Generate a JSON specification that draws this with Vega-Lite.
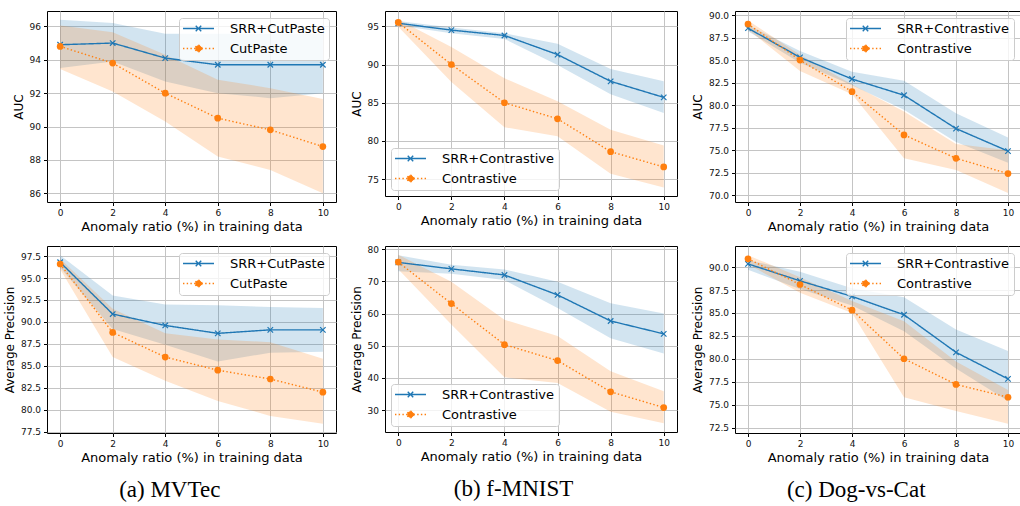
{
  "$schema": "https://vega.github.io/schema/vega-lite/v6.json",
  "padding": {"left": 2, "top": 10, "right": 0, "bottom": 0},
  "background": "white",
  "concat": [
    {
      "width": 289, "height": 191,
      "data": {"values": [
        {"r": 0, "s": "SRR+CutPaste", "v": 94.9, "lo": 93.5, "hi": 96.4},
        {"r": 2, "s": "SRR+CutPaste", "v": 95.0, "lo": 93.9, "hi": 96.2},
        {"r": 4, "s": "SRR+CutPaste", "v": 94.1, "lo": 92.7, "hi": 95.55},
        {"r": 6, "s": "SRR+CutPaste", "v": 93.7, "lo": 92.0, "hi": 95.55},
        {"r": 8, "s": "SRR+CutPaste", "v": 93.7, "lo": 91.7, "hi": 95.55},
        {"r": 10, "s": "SRR+CutPaste", "v": 93.7, "lo": 92.0, "hi": 95.55},
        {"r": 0, "s": "CutPaste", "v": 94.8, "lo": 93.45, "hi": 96.05},
        {"r": 2, "s": "CutPaste", "v": 93.8, "lo": 92.1, "hi": 95.65},
        {"r": 4, "s": "CutPaste", "v": 92.0, "lo": 90.3, "hi": 94.3},
        {"r": 6, "s": "CutPaste", "v": 90.5, "lo": 88.2, "hi": 92.8},
        {"r": 8, "s": "CutPaste", "v": 89.8, "lo": 87.4, "hi": 92.3},
        {"r": 10, "s": "CutPaste", "v": 88.8, "lo": 86.0, "hi": 91.65}
      ]},
      "encoding": {
        "x": {"field": "r", "type": "quantitative", "scale": {"domain": [-0.5, 10.5], "nice": false, "zero": false}, "axis": {"values": [0, 2, 4, 6, 8, 10], "title": "Anomaly ratio (%) in training data"}},
        "color": {"field": "s", "type": "nominal", "scale": {"domain": ["SRR+CutPaste", "CutPaste"], "range": ["#1f77b4", "#ff7f0e"]},
          "legend": {"title": null, "orient": "top-right", "offset": 7,
            "encode": {"symbols": {"update": {
              "shape": {"signal": "indexof(datum.value,'SRR')===0 ? 'M-3.1,0H3.1M-0.55,-0.55L0.55,0.55M-0.55,0.55L0.55,-0.55' : 'M-3.1,0H3.1M0.65,0A0.65,0.65,0,1,1,-0.65,0A0.65,0.65,0,1,1,0.65,0'"},
              "fill": {"signal": "indexof(datum.value,'SRR')===0 ? 'transparent' : '#ff7f0e'"},
              "stroke": {"signal": "indexof(datum.value,'SRR')===0 ? '#1f77b4' : '#ff7f0e'"},
              "strokeDash": {"signal": "indexof(datum.value,'SRR')===0 ? [1,0] : [1.4,2.3]"},
              "opacity": {"value": 1}, "fillOpacity": {"value": 1}, "strokeOpacity": {"value": 1}}}}}}
      },
      "layer": [
        {"mark": {"type": "area", "opacity": 0.2},
         "encoding": {
           "y": {"field": "lo", "type": "quantitative", "scale": {"domain": [85.48, 96.92], "nice": false, "zero": false}, "axis": {"values": [86, 88, 90, 92, 94, 96], "format": "d", "title": "AUC"}},
           "y2": {"field": "hi"}}},
        {"mark": {"type": "line", "strokeWidth": 1.4},
         "encoding": {
           "y": {"field": "v", "type": "quantitative", "scale": {"domain": [85.48, 96.92], "nice": false, "zero": false}, "axis": {"values": [86, 88, 90, 92, 94, 96], "format": "d", "title": "AUC"}},
           "strokeDash": {"field": "s", "type": "nominal", "scale": {"domain": ["SRR+CutPaste", "CutPaste"], "range": [[1, 0], [1.4, 2.3]]}, "legend": null}}},
        {"transform": [{"filter": "indexof(datum.s,'SRR')===0"}],
         "mark": {"type": "point", "shape": "M-1,-1L1,1M-1,1L1,-1", "filled": false, "size": 30, "strokeWidth": 1.2, "opacity": 1},
         "encoding": {"y": {"field": "v", "type": "quantitative", "scale": {"domain": [85.48, 96.92], "nice": false, "zero": false}, "axis": {"values": [86, 88, 90, 92, 94, 96], "format": "d", "title": "AUC"}}}},
        {"transform": [{"filter": "indexof(datum.s,'SRR')!==0"}],
         "mark": {"type": "circle", "size": 45, "opacity": 1},
         "encoding": {"y": {"field": "v", "type": "quantitative", "scale": {"domain": [85.48, 96.92], "nice": false, "zero": false}, "axis": {"values": [86, 88, 90, 92, 94, 96], "format": "d", "title": "AUC"}}}}
      ]
    },
    {
      "width": 292, "height": 185,
      "data": {"values": [
        {"r": 0, "s": "SRR+Contrastive", "v": 95.4, "lo": 95.1, "hi": 95.7},
        {"r": 2, "s": "SRR+Contrastive", "v": 94.5, "lo": 94.1, "hi": 94.85},
        {"r": 4, "s": "SRR+Contrastive", "v": 93.8, "lo": 93.35, "hi": 94.1},
        {"r": 6, "s": "SRR+Contrastive", "v": 91.3, "lo": 89.95, "hi": 92.7},
        {"r": 8, "s": "SRR+Contrastive", "v": 87.8, "lo": 86.1, "hi": 89.4},
        {"r": 10, "s": "SRR+Contrastive", "v": 85.7, "lo": 83.65, "hi": 87.8},
        {"r": 0, "s": "Contrastive", "v": 95.5, "lo": 94.95, "hi": 95.9},
        {"r": 2, "s": "Contrastive", "v": 90.0, "lo": 87.7, "hi": 92.3},
        {"r": 4, "s": "Contrastive", "v": 85.0, "lo": 81.8, "hi": 88.2},
        {"r": 6, "s": "Contrastive", "v": 82.9, "lo": 80.6, "hi": 85.2},
        {"r": 8, "s": "Contrastive", "v": 78.6, "lo": 75.7, "hi": 81.45},
        {"r": 10, "s": "Contrastive", "v": 76.6, "lo": 73.9, "hi": 79.4}
      ]},
      "encoding": {
        "x": {"field": "r", "type": "quantitative", "scale": {"domain": [-0.5, 10.5], "nice": false, "zero": false}, "axis": {"values": [0, 2, 4, 6, 8, 10], "title": "Anomaly ratio (%) in training data"}},
        "color": {"field": "s", "type": "nominal", "scale": {"domain": ["SRR+Contrastive", "Contrastive"], "range": ["#1f77b4", "#ff7f0e"]},
          "legend": {"title": null, "orient": "bottom-left", "offset": 6,
            "encode": {"symbols": {"update": {
              "shape": {"signal": "indexof(datum.value,'SRR')===0 ? 'M-3.1,0H3.1M-0.55,-0.55L0.55,0.55M-0.55,0.55L0.55,-0.55' : 'M-3.1,0H3.1M0.65,0A0.65,0.65,0,1,1,-0.65,0A0.65,0.65,0,1,1,0.65,0'"},
              "fill": {"signal": "indexof(datum.value,'SRR')===0 ? 'transparent' : '#ff7f0e'"},
              "stroke": {"signal": "indexof(datum.value,'SRR')===0 ? '#1f77b4' : '#ff7f0e'"},
              "strokeDash": {"signal": "indexof(datum.value,'SRR')===0 ? [1,0] : [1.4,2.3]"},
              "opacity": {"value": 1}, "fillOpacity": {"value": 1}, "strokeOpacity": {"value": 1}}}}}}
      },
      "layer": [
        {"mark": {"type": "area", "opacity": 0.2},
         "encoding": {
           "y": {"field": "lo", "type": "quantitative", "scale": {"domain": [72.8, 97.0], "nice": false, "zero": false}, "axis": {"values": [75, 80, 85, 90, 95], "format": "d", "title": "AUC"}},
           "y2": {"field": "hi"}}},
        {"mark": {"type": "line", "strokeWidth": 1.4},
         "encoding": {
           "y": {"field": "v", "type": "quantitative", "scale": {"domain": [72.8, 97.0], "nice": false, "zero": false}, "axis": {"values": [75, 80, 85, 90, 95], "format": "d", "title": "AUC"}},
           "strokeDash": {"field": "s", "type": "nominal", "scale": {"domain": ["SRR+Contrastive", "Contrastive"], "range": [[1, 0], [1.4, 2.3]]}, "legend": null}}},
        {"transform": [{"filter": "indexof(datum.s,'SRR')===0"}],
         "mark": {"type": "point", "shape": "M-1,-1L1,1M-1,1L1,-1", "filled": false, "size": 30, "strokeWidth": 1.2, "opacity": 1},
         "encoding": {"y": {"field": "v", "type": "quantitative", "scale": {"domain": [72.8, 97.0], "nice": false, "zero": false}, "axis": {"values": [75, 80, 85, 90, 95], "format": "d", "title": "AUC"}}}},
        {"transform": [{"filter": "indexof(datum.s,'SRR')!==0"}],
         "mark": {"type": "circle", "size": 45, "opacity": 1},
         "encoding": {"y": {"field": "v", "type": "quantitative", "scale": {"domain": [72.8, 97.0], "nice": false, "zero": false}, "axis": {"values": [75, 80, 85, 90, 95], "format": "d", "title": "AUC"}}}}
      ]
    },
    {
      "width": 286, "height": 191,
      "data": {"values": [
        {"r": 0, "s": "SRR+Contrastive", "v": 88.55, "lo": 88.2, "hi": 88.9},
        {"r": 2, "s": "SRR+Contrastive", "v": 85.3, "lo": 84.7, "hi": 86.0},
        {"r": 4, "s": "SRR+Contrastive", "v": 82.9, "lo": 82.2, "hi": 83.7},
        {"r": 6, "s": "SRR+Contrastive", "v": 81.1, "lo": 79.5, "hi": 82.7},
        {"r": 8, "s": "SRR+Contrastive", "v": 77.4, "lo": 75.9, "hi": 79.1},
        {"r": 10, "s": "SRR+Contrastive", "v": 74.9, "lo": 73.6, "hi": 76.4},
        {"r": 0, "s": "Contrastive", "v": 89.0, "lo": 88.4, "hi": 89.4},
        {"r": 2, "s": "Contrastive", "v": 85.0, "lo": 83.8, "hi": 85.6},
        {"r": 4, "s": "Contrastive", "v": 81.5, "lo": 81.2, "hi": 82.3},
        {"r": 6, "s": "Contrastive", "v": 76.7, "lo": 74.1, "hi": 79.3},
        {"r": 8, "s": "Contrastive", "v": 74.1, "lo": 72.8, "hi": 75.7},
        {"r": 10, "s": "Contrastive", "v": 72.4, "lo": 70.25, "hi": 75.0}
      ]},
      "encoding": {
        "x": {"field": "r", "type": "quantitative", "scale": {"domain": [-0.5, 10.5], "nice": false, "zero": false}, "axis": {"values": [0, 2, 4, 6, 8, 10], "title": "Anomaly ratio (%) in training data"}},
        "color": {"field": "s", "type": "nominal", "scale": {"domain": ["SRR+Contrastive", "Contrastive"], "range": ["#1f77b4", "#ff7f0e"]},
          "legend": {"title": null, "orient": "top-right", "offset": 7,
            "encode": {"symbols": {"update": {
              "shape": {"signal": "indexof(datum.value,'SRR')===0 ? 'M-3.1,0H3.1M-0.55,-0.55L0.55,0.55M-0.55,0.55L0.55,-0.55' : 'M-3.1,0H3.1M0.65,0A0.65,0.65,0,1,1,-0.65,0A0.65,0.65,0,1,1,0.65,0'"},
              "fill": {"signal": "indexof(datum.value,'SRR')===0 ? 'transparent' : '#ff7f0e'"},
              "stroke": {"signal": "indexof(datum.value,'SRR')===0 ? '#1f77b4' : '#ff7f0e'"},
              "strokeDash": {"signal": "indexof(datum.value,'SRR')===0 ? [1,0] : [1.4,2.3]"},
              "opacity": {"value": 1}, "fillOpacity": {"value": 1}, "strokeOpacity": {"value": 1}}}}}}
      },
      "layer": [
        {"mark": {"type": "area", "opacity": 0.2},
         "encoding": {
           "y": {"field": "lo", "type": "quantitative", "scale": {"domain": [69.25, 90.45], "nice": false, "zero": false}, "axis": {"values": [70, 72.5, 75, 77.5, 80, 82.5, 85, 87.5, 90], "format": ".1f", "title": "AUC"}},
           "y2": {"field": "hi"}}},
        {"mark": {"type": "line", "strokeWidth": 1.4},
         "encoding": {
           "y": {"field": "v", "type": "quantitative", "scale": {"domain": [69.25, 90.45], "nice": false, "zero": false}, "axis": {"values": [70, 72.5, 75, 77.5, 80, 82.5, 85, 87.5, 90], "format": ".1f", "title": "AUC"}},
           "strokeDash": {"field": "s", "type": "nominal", "scale": {"domain": ["SRR+Contrastive", "Contrastive"], "range": [[1, 0], [1.4, 2.3]]}, "legend": null}}},
        {"transform": [{"filter": "indexof(datum.s,'SRR')===0"}],
         "mark": {"type": "point", "shape": "M-1,-1L1,1M-1,1L1,-1", "filled": false, "size": 30, "strokeWidth": 1.2, "opacity": 1},
         "encoding": {"y": {"field": "v", "type": "quantitative", "scale": {"domain": [69.25, 90.45], "nice": false, "zero": false}, "axis": {"values": [70, 72.5, 75, 77.5, 80, 82.5, 85, 87.5, 90], "format": ".1f", "title": "AUC"}}}},
        {"transform": [{"filter": "indexof(datum.s,'SRR')!==0"}],
         "mark": {"type": "circle", "size": 45, "opacity": 1},
         "encoding": {"y": {"field": "v", "type": "quantitative", "scale": {"domain": [69.25, 90.45], "nice": false, "zero": false}, "axis": {"values": [70, 72.5, 75, 77.5, 80, 82.5, 85, 87.5, 90], "format": ".1f", "title": "AUC"}}}}
      ]
    },
    {
      "width": 289, "height": 187,
      "title": {"text": "(a) MVTec", "orient": "bottom", "frame": "bounds", "font": "Liberation Serif", "fontSize": 23, "fontWeight": "normal", "color": "black", "offset": 14},
      "data": {"values": [
        {"r": 0, "s": "SRR+CutPaste", "v": 96.8, "lo": 96.2, "hi": 97.6},
        {"r": 2, "s": "SRR+CutPaste", "v": 90.9, "lo": 89.2, "hi": 93.0},
        {"r": 4, "s": "SRR+CutPaste", "v": 89.6, "lo": 87.4, "hi": 92.0},
        {"r": 6, "s": "SRR+CutPaste", "v": 88.7, "lo": 85.5, "hi": 91.9},
        {"r": 8, "s": "SRR+CutPaste", "v": 89.1, "lo": 86.5, "hi": 91.7},
        {"r": 10, "s": "SRR+CutPaste", "v": 89.1, "lo": 86.6, "hi": 91.6},
        {"r": 0, "s": "CutPaste", "v": 96.6, "lo": 96.0, "hi": 97.2},
        {"r": 2, "s": "CutPaste", "v": 88.8, "lo": 86.0, "hi": 91.5},
        {"r": 4, "s": "CutPaste", "v": 86.0, "lo": 83.3, "hi": 88.7},
        {"r": 6, "s": "CutPaste", "v": 84.5, "lo": 81.0, "hi": 88.0},
        {"r": 8, "s": "CutPaste", "v": 83.5, "lo": 79.3, "hi": 87.7},
        {"r": 10, "s": "CutPaste", "v": 82.0, "lo": 78.4, "hi": 85.8}
      ]},
      "encoding": {
        "x": {"field": "r", "type": "quantitative", "scale": {"domain": [-0.5, 10.5], "nice": false, "zero": false}, "axis": {"values": [0, 2, 4, 6, 8, 10], "title": "Anomaly ratio (%) in training data"}},
        "color": {"field": "s", "type": "nominal", "scale": {"domain": ["SRR+CutPaste", "CutPaste"], "range": ["#1f77b4", "#ff7f0e"]},
          "legend": {"title": null, "orient": "top-right", "offset": 7,
            "encode": {"symbols": {"update": {
              "shape": {"signal": "indexof(datum.value,'SRR')===0 ? 'M-3.1,0H3.1M-0.55,-0.55L0.55,0.55M-0.55,0.55L0.55,-0.55' : 'M-3.1,0H3.1M0.65,0A0.65,0.65,0,1,1,-0.65,0A0.65,0.65,0,1,1,0.65,0'"},
              "fill": {"signal": "indexof(datum.value,'SRR')===0 ? 'transparent' : '#ff7f0e'"},
              "stroke": {"signal": "indexof(datum.value,'SRR')===0 ? '#1f77b4' : '#ff7f0e'"},
              "strokeDash": {"signal": "indexof(datum.value,'SRR')===0 ? [1,0] : [1.4,2.3]"},
              "opacity": {"value": 1}, "fillOpacity": {"value": 1}, "strokeOpacity": {"value": 1}}}}}}
      },
      "layer": [
        {"mark": {"type": "area", "opacity": 0.2},
         "encoding": {
           "y": {"field": "lo", "type": "quantitative", "scale": {"domain": [77.35, 98.65], "nice": false, "zero": false}, "axis": {"values": [77.5, 80, 82.5, 85, 87.5, 90, 92.5, 95, 97.5], "format": ".1f", "title": "Average Precision"}},
           "y2": {"field": "hi"}}},
        {"mark": {"type": "line", "strokeWidth": 1.4},
         "encoding": {
           "y": {"field": "v", "type": "quantitative", "scale": {"domain": [77.35, 98.65], "nice": false, "zero": false}, "axis": {"values": [77.5, 80, 82.5, 85, 87.5, 90, 92.5, 95, 97.5], "format": ".1f", "title": "Average Precision"}},
           "strokeDash": {"field": "s", "type": "nominal", "scale": {"domain": ["SRR+CutPaste", "CutPaste"], "range": [[1, 0], [1.4, 2.3]]}, "legend": null}}},
        {"transform": [{"filter": "indexof(datum.s,'SRR')===0"}],
         "mark": {"type": "point", "shape": "M-1,-1L1,1M-1,1L1,-1", "filled": false, "size": 30, "strokeWidth": 1.2, "opacity": 1},
         "encoding": {"y": {"field": "v", "type": "quantitative", "scale": {"domain": [77.35, 98.65], "nice": false, "zero": false}, "axis": {"values": [77.5, 80, 82.5, 85, 87.5, 90, 92.5, 95, 97.5], "format": ".1f", "title": "Average Precision"}}}},
        {"transform": [{"filter": "indexof(datum.s,'SRR')!==0"}],
         "mark": {"type": "circle", "size": 45, "opacity": 1},
         "encoding": {"y": {"field": "v", "type": "quantitative", "scale": {"domain": [77.35, 98.65], "nice": false, "zero": false}, "axis": {"values": [77.5, 80, 82.5, 85, 87.5, 90, 92.5, 95, 97.5], "format": ".1f", "title": "Average Precision"}}}}
      ]
    },
    {
      "width": 292, "height": 186,
      "title": {"text": "(b) f-MNIST", "orient": "bottom", "frame": "bounds", "font": "Liberation Serif", "fontSize": 23, "fontWeight": "normal", "color": "black", "offset": 14},
      "data": {"values": [
        {"r": 0, "s": "SRR+Contrastive", "v": 75.9, "lo": 73.15, "hi": 78.1},
        {"r": 2, "s": "SRR+Contrastive", "v": 73.9, "lo": 72.4, "hi": 75.2},
        {"r": 4, "s": "SRR+Contrastive", "v": 72.0, "lo": 70.4, "hi": 73.7},
        {"r": 6, "s": "SRR+Contrastive", "v": 65.8, "lo": 61.7, "hi": 69.9},
        {"r": 8, "s": "SRR+Contrastive", "v": 57.7, "lo": 52.3, "hi": 63.2},
        {"r": 10, "s": "SRR+Contrastive", "v": 53.7, "lo": 47.6, "hi": 60.0},
        {"r": 0, "s": "Contrastive", "v": 76.0, "lo": 73.8, "hi": 78.3},
        {"r": 2, "s": "Contrastive", "v": 63.1, "lo": 56.6, "hi": 69.9},
        {"r": 4, "s": "Contrastive", "v": 50.35, "lo": 40.2, "hi": 58.1},
        {"r": 6, "s": "Contrastive", "v": 45.4, "lo": 38.4, "hi": 53.0},
        {"r": 8, "s": "Contrastive", "v": 35.7, "lo": 29.5, "hi": 42.1},
        {"r": 10, "s": "Contrastive", "v": 30.8, "lo": 25.9, "hi": 35.9}
      ]},
      "encoding": {
        "x": {"field": "r", "type": "quantitative", "scale": {"domain": [-0.5, 10.5], "nice": false, "zero": false}, "axis": {"values": [0, 2, 4, 6, 8, 10], "title": "Anomaly ratio (%) in training data"}},
        "color": {"field": "s", "type": "nominal", "scale": {"domain": ["SRR+Contrastive", "Contrastive"], "range": ["#1f77b4", "#ff7f0e"]},
          "legend": {"title": null, "orient": "bottom-left", "offset": 6,
            "encode": {"symbols": {"update": {
              "shape": {"signal": "indexof(datum.value,'SRR')===0 ? 'M-3.1,0H3.1M-0.55,-0.55L0.55,0.55M-0.55,0.55L0.55,-0.55' : 'M-3.1,0H3.1M0.65,0A0.65,0.65,0,1,1,-0.65,0A0.65,0.65,0,1,1,0.65,0'"},
              "fill": {"signal": "indexof(datum.value,'SRR')===0 ? 'transparent' : '#ff7f0e'"},
              "stroke": {"signal": "indexof(datum.value,'SRR')===0 ? '#1f77b4' : '#ff7f0e'"},
              "strokeDash": {"signal": "indexof(datum.value,'SRR')===0 ? [1,0] : [1.4,2.3]"},
              "opacity": {"value": 1}, "fillOpacity": {"value": 1}, "strokeOpacity": {"value": 1}}}}}}
      },
      "layer": [
        {"mark": {"type": "area", "opacity": 0.2},
         "encoding": {
           "y": {"field": "lo", "type": "quantitative", "scale": {"domain": [23.2, 81.0], "nice": false, "zero": false}, "axis": {"values": [30, 40, 50, 60, 70, 80], "format": "d", "title": "Average Precision"}},
           "y2": {"field": "hi"}}},
        {"mark": {"type": "line", "strokeWidth": 1.4},
         "encoding": {
           "y": {"field": "v", "type": "quantitative", "scale": {"domain": [23.2, 81.0], "nice": false, "zero": false}, "axis": {"values": [30, 40, 50, 60, 70, 80], "format": "d", "title": "Average Precision"}},
           "strokeDash": {"field": "s", "type": "nominal", "scale": {"domain": ["SRR+Contrastive", "Contrastive"], "range": [[1, 0], [1.4, 2.3]]}, "legend": null}}},
        {"transform": [{"filter": "indexof(datum.s,'SRR')===0"}],
         "mark": {"type": "point", "shape": "M-1,-1L1,1M-1,1L1,-1", "filled": false, "size": 30, "strokeWidth": 1.2, "opacity": 1},
         "encoding": {"y": {"field": "v", "type": "quantitative", "scale": {"domain": [23.2, 81.0], "nice": false, "zero": false}, "axis": {"values": [30, 40, 50, 60, 70, 80], "format": "d", "title": "Average Precision"}}}},
        {"transform": [{"filter": "indexof(datum.s,'SRR')!==0"}],
         "mark": {"type": "circle", "size": 45, "opacity": 1},
         "encoding": {"y": {"field": "v", "type": "quantitative", "scale": {"domain": [23.2, 81.0], "nice": false, "zero": false}, "axis": {"values": [30, 40, 50, 60, 70, 80], "format": "d", "title": "Average Precision"}}}}
      ]
    },
    {
      "width": 286, "height": 187,
      "title": {"text": "(c) Dog-vs-Cat", "orient": "bottom", "frame": "bounds", "font": "Liberation Serif", "fontSize": 23, "fontWeight": "normal", "color": "black", "offset": 14},
      "data": {"values": [
        {"r": 0, "s": "SRR+Contrastive", "v": 90.35, "lo": 89.7, "hi": 90.75},
        {"r": 2, "s": "SRR+Contrastive", "v": 88.5, "lo": 87.6, "hi": 89.5},
        {"r": 4, "s": "SRR+Contrastive", "v": 86.8, "lo": 85.8, "hi": 87.7},
        {"r": 6, "s": "SRR+Contrastive", "v": 84.8, "lo": 83.0, "hi": 86.7},
        {"r": 8, "s": "SRR+Contrastive", "v": 80.7, "lo": 78.95, "hi": 83.2},
        {"r": 10, "s": "SRR+Contrastive", "v": 77.8, "lo": 75.4, "hi": 80.85},
        {"r": 0, "s": "Contrastive", "v": 90.9, "lo": 90.3, "hi": 91.3},
        {"r": 2, "s": "Contrastive", "v": 88.1, "lo": 87.2, "hi": 88.9},
        {"r": 4, "s": "Contrastive", "v": 85.3, "lo": 85.0, "hi": 86.3},
        {"r": 6, "s": "Contrastive", "v": 80.0, "lo": 75.8, "hi": 84.1},
        {"r": 8, "s": "Contrastive", "v": 77.2, "lo": 74.3, "hi": 79.7},
        {"r": 10, "s": "Contrastive", "v": 75.8, "lo": 72.9, "hi": 76.6}
      ]},
      "encoding": {
        "x": {"field": "r", "type": "quantitative", "scale": {"domain": [-0.5, 10.5], "nice": false, "zero": false}, "axis": {"values": [0, 2, 4, 6, 8, 10], "title": "Anomaly ratio (%) in training data"}},
        "color": {"field": "s", "type": "nominal", "scale": {"domain": ["SRR+Contrastive", "Contrastive"], "range": ["#1f77b4", "#ff7f0e"]},
          "legend": {"title": null, "orient": "top-right", "offset": 7,
            "encode": {"symbols": {"update": {
              "shape": {"signal": "indexof(datum.value,'SRR')===0 ? 'M-3.1,0H3.1M-0.55,-0.55L0.55,0.55M-0.55,0.55L0.55,-0.55' : 'M-3.1,0H3.1M0.65,0A0.65,0.65,0,1,1,-0.65,0A0.65,0.65,0,1,1,0.65,0'"},
              "fill": {"signal": "indexof(datum.value,'SRR')===0 ? 'transparent' : '#ff7f0e'"},
              "stroke": {"signal": "indexof(datum.value,'SRR')===0 ? '#1f77b4' : '#ff7f0e'"},
              "strokeDash": {"signal": "indexof(datum.value,'SRR')===0 ? [1,0] : [1.4,2.3]"},
              "opacity": {"value": 1}, "fillOpacity": {"value": 1}, "strokeOpacity": {"value": 1}}}}}}
      },
      "layer": [
        {"mark": {"type": "area", "opacity": 0.2},
         "encoding": {
           "y": {"field": "lo", "type": "quantitative", "scale": {"domain": [71.9, 92.3], "nice": false, "zero": false}, "axis": {"values": [72.5, 75, 77.5, 80, 82.5, 85, 87.5, 90], "format": ".1f", "title": "Average Precision"}},
           "y2": {"field": "hi"}}},
        {"mark": {"type": "line", "strokeWidth": 1.4},
         "encoding": {
           "y": {"field": "v", "type": "quantitative", "scale": {"domain": [71.9, 92.3], "nice": false, "zero": false}, "axis": {"values": [72.5, 75, 77.5, 80, 82.5, 85, 87.5, 90], "format": ".1f", "title": "Average Precision"}},
           "strokeDash": {"field": "s", "type": "nominal", "scale": {"domain": ["SRR+Contrastive", "Contrastive"], "range": [[1, 0], [1.4, 2.3]]}, "legend": null}}},
        {"transform": [{"filter": "indexof(datum.s,'SRR')===0"}],
         "mark": {"type": "point", "shape": "M-1,-1L1,1M-1,1L1,-1", "filled": false, "size": 30, "strokeWidth": 1.2, "opacity": 1},
         "encoding": {"y": {"field": "v", "type": "quantitative", "scale": {"domain": [71.9, 92.3], "nice": false, "zero": false}, "axis": {"values": [72.5, 75, 77.5, 80, 82.5, 85, 87.5, 90], "format": ".1f", "title": "Average Precision"}}}},
        {"transform": [{"filter": "indexof(datum.s,'SRR')!==0"}],
         "mark": {"type": "circle", "size": 45, "opacity": 1},
         "encoding": {"y": {"field": "v", "type": "quantitative", "scale": {"domain": [71.9, 92.3], "nice": false, "zero": false}, "axis": {"values": [72.5, 75, 77.5, 80, 82.5, 85, 87.5, 90], "format": ".1f", "title": "Average Precision"}}}}
      ]
    }
  ],
  "columns": 3,
  "align": "each",
  "spacing": {"row": 10, "column": 12},
  "resolve": {"scale": {"color": "independent", "strokeDash": "independent", "x": "independent", "y": "independent"}, "legend": {"color": "independent", "strokeDash": "independent"}},
  "config": {
    "font": "DejaVu Sans",
    "view": {"stroke": "black", "strokeWidth": 1},
    "axis": {"domain": false, "grid": true, "gridColor": "#c4c4c4", "gridWidth": 1, "ticks": true, "tickColor": "black", "tickSize": 3.5, "tickWidth": 1, "labelFont": "DejaVu Sans", "labelFontSize": 9, "labelColor": "#111111", "labelPadding": 3, "labelFlush": false, "labelOverlap": false, "titleFont": "DejaVu Sans", "titleFontSize": 13, "titleFontWeight": "normal", "titleColor": "black", "minExtent": 0},
    "axisY": {"titleFontSize": 12, "titlePadding": 4},
    "axisX": {"titlePadding": 3},
    "legend": {"padding": 4, "fillColor": "rgba(255,255,255,0.8)", "strokeColor": "#cccccc", "cornerRadius": 3, "labelFont": "DejaVu Sans", "labelFontSize": 13, "labelColor": "black", "symbolSize": 100, "symbolStrokeWidth": 1.4, "symbolOffset": 9, "labelOffset": 25, "rowPadding": 6},
    "title": {"font": "Liberation Serif", "fontWeight": "normal", "color": "black"}
  }
}
